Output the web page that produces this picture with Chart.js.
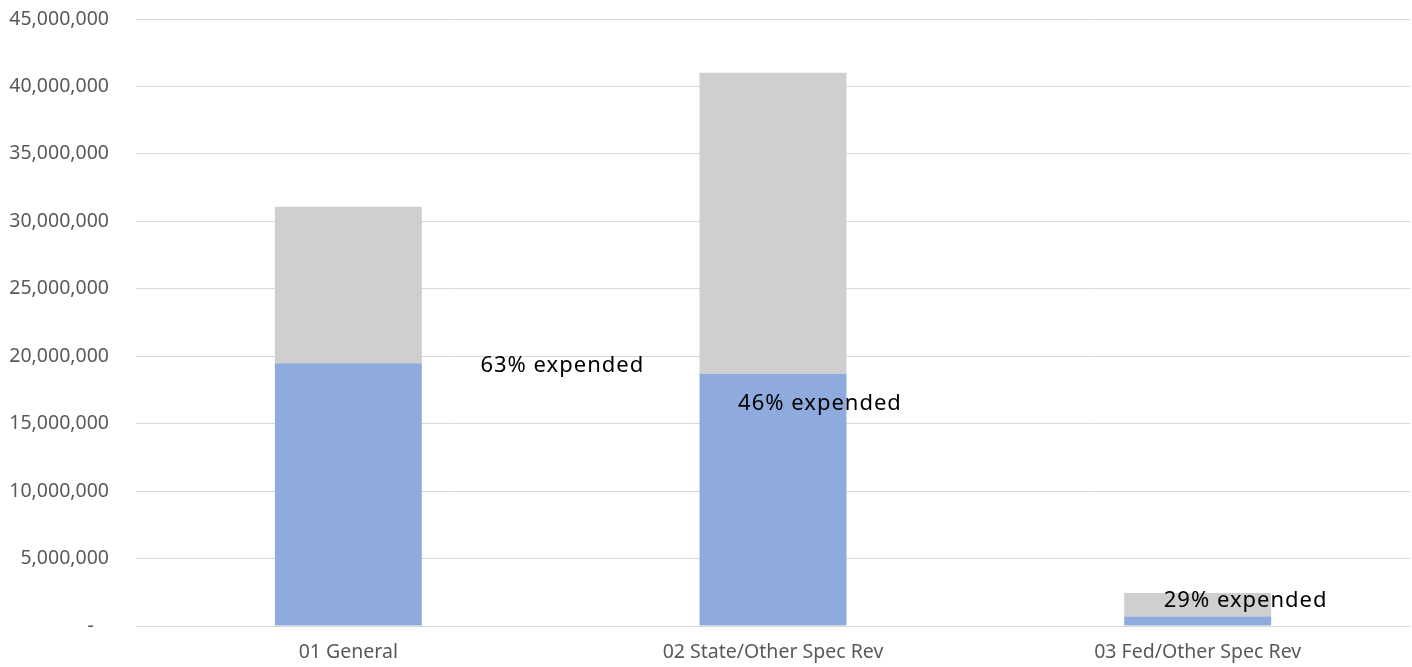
<!DOCTYPE html>
<html>
<head>
<meta charset="utf-8">
<script src="https://cdn.jsdelivr.net/npm/chart.js@4"></script>
<style>
  html, body { margin: 0; padding: 0; background: #ffffff; }
  #wrap { width: 1412px; height: 667px; }
</style>
</head>
<body>
<div id="wrap"><canvas id="budgetChart" width="1412" height="667"></canvas></div>
<script>
    // Data
    const categories = ['01 General', '02 State/Other Spec Rev', '03 Fed/Other Spec Rev'];
    const expended = [19470000, 18700000, 710000];
    const remaining = [11620000, 22320000, 1740000];
    const yTicks = [0, 5000000, 10000000, 15000000, 20000000, 25000000, 30000000, 35000000, 40000000, 45000000];

    // where each "% expended" note sits, relative to the top of its blue bar (px)
    const noteOffsets = [[214, 2], [47, 30], [48, -16]];

    const notesPlugin = {
        id: 'expendedNotes',
        afterDatasetsDraw(chart) {
            const ctx = chart.ctx;
            const meta = chart.getDatasetMeta(0);
            ctx.save();
            ctx.font = '22px "Noto Sans"';
            ctx.letterSpacing = '1px';
            ctx.fillStyle = '#000000';
            ctx.textAlign = 'center';
            ctx.textBaseline = 'middle';
            meta.data.forEach(function(bar, i) {
                const pct = Math.round(expended[i] / (expended[i] + remaining[i]) * 100);
                ctx.fillText(pct + '% expended', bar.x + noteOffsets[i][0], bar.y + noteOffsets[i][1]);
            });
            ctx.restore();
        }
    };

    const ctx = document.getElementById('budgetChart').getContext('2d');
    const budgetChart = new Chart(ctx, {
        type: 'bar',
        data: {
            labels: categories,
            datasets: [{
                label: 'Expended',
                data: expended,
                backgroundColor: '#8FAADC',
                barPercentage: 0.346,
                categoryPercentage: 1
            }, {
                label: 'Remaining',
                data: remaining,
                backgroundColor: '#D0CECE',
                barPercentage: 0.346,
                categoryPercentage: 1
            }]
        },
        options: {
            responsive: false,
            animation: false,
            layout: { padding: { top: 19, right: 2, bottom: 0, left: 0 } },
            scales: {
                x: {
                    stacked: true,
                    grid: { display: false, drawTicks: false },
                    border: { display: true, color: '#D9D9D9', width: 1 },
                    ticks: {
                        color: '#595959',
                        font: { family: '"Noto Sans"', size: 19.5 },
                        padding: 15,
                        maxRotation: 0
                    },
                    afterFit: function(axis) {
                        axis.height = 41;
                        axis.paddingLeft = 0;
                        axis.paddingRight = 0;
                    }
                },
                y: {
                    stacked: true,
                    min: 0,
                    max: 45000000,
                    afterBuildTicks: function(axis) {
                        axis.ticks = yTicks.map(function(v) { return { value: v }; });
                    },
                    grid: { color: '#D9D9D9', lineWidth: 1, drawTicks: false },
                    border: { display: false },
                    ticks: {
                        color: '#595959',
                        font: { family: '"Noto Sans"', size: 19.5 },
                        padding: 27,
                        callback: function(value) {
                            return value === 0 ? '-   ' : value.toLocaleString('en-US');
                        }
                    },
                    afterFit: function(axis) {
                        axis.width = 136;
                        axis.paddingTop = 0;
                        axis.paddingBottom = 0;
                    }
                }
            },
            plugins: {
                legend: { display: false },
                tooltip: { enabled: false }
            }
        },
        plugins: [notesPlugin]
    });
</script>
</body>
</html>
